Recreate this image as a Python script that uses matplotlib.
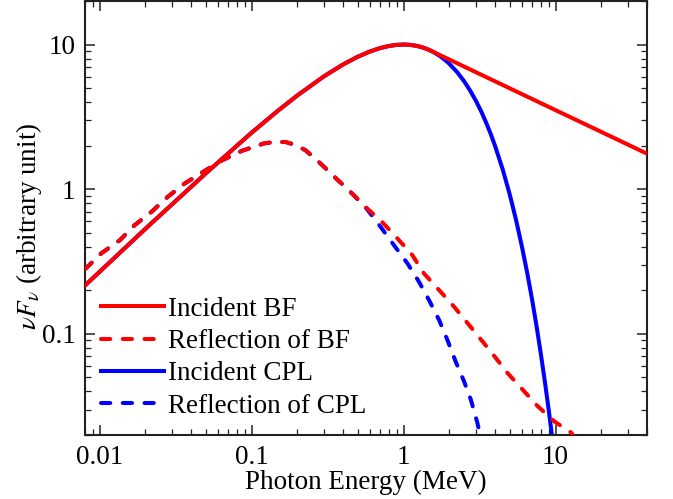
import matplotlib
matplotlib.use("Agg")
import matplotlib.pyplot as plt
from matplotlib.ticker import FixedLocator, FixedFormatter, NullFormatter

plt.rcParams['font.family'] = ['Liberation Serif', 'DejaVu Serif']
plt.rcParams['mathtext.fontset'] = 'stix'

# incident spectra (MeV, arbitrary nuFnu)
e_inc = [0.008, 0.02, 0.05, 0.1, 0.15, 0.2, 0.3, 0.4, 0.5, 0.6, 0.7, 0.8,
         0.9, 1.0, 1.1, 1.2, 1.3, 1.4, 1.5]
f_inc = [0.216, 0.533, 1.29, 2.46, 3.51, 4.45, 6.04, 7.29, 8.24, 8.95, 9.45,
         9.77, 9.95, 10.0, 9.95, 9.82, 9.63, 9.38, 9.10]

e_bf_hi = [1.75, 2, 3, 5, 10, 20, 40]
f_bf_hi = [8.42, 7.88, 6.43, 4.98, 3.52, 2.49, 1.76]

e_cpl_hi = [1.6, 1.75, 1.9, 2, 2.25, 2.5, 2.75, 3, 3.25, 3.5, 3.75, 4, 4.5,
            5, 5.5, 6, 6.5, 7, 7.5, 8, 8.5, 9, 9.5, 10]
f_cpl_hi = [8.78, 8.27, 7.72, 7.36, 6.45, 5.58, 4.78, 4.06, 3.43, 2.87, 2.40,
            1.99, 1.36, 0.916, 0.611, 0.404, 0.266, 0.174, 0.113, 0.0729,
            0.047, 0.0302, 0.0193, 0.0123]

# reflected spectra
e_refl = [0.008, 0.0103, 0.0136, 0.017, 0.022, 0.028, 0.036, 0.048, 0.064,
          0.086, 0.12, 0.14, 0.167, 0.195, 0.226, 0.283, 0.35, 0.458]
f_refl = [0.28, 0.362, 0.445, 0.565, 0.70, 0.885, 1.09, 1.32, 1.585, 1.84,
          2.07, 2.12, 2.12, 2.02, 1.86, 1.51, 1.22, 0.934]

e_rbf_hi = [0.576, 0.72, 0.91, 1.14, 1.36, 1.71, 2.15, 2.63, 3.31, 4.05,
            4.83, 6.08, 7.63, 9.82, 12.65, 14]
f_rbf_hi = [0.736, 0.595, 0.457, 0.351, 0.262, 0.201, 0.154, 0.119, 0.0885,
            0.068, 0.0536, 0.0411, 0.0316, 0.0248, 0.0208, 0.018]

e_rcpl_hi = [0.576, 0.705, 0.863, 1.06, 1.26, 1.47, 1.71, 1.94, 2.2, 2.5,
             2.77, 3.06, 3.3]
f_rcpl_hi = [0.725, 0.55, 0.411, 0.307, 0.23, 0.171, 0.125, 0.091, 0.0644,
             0.0469, 0.0351, 0.0242, 0.017]

labels = ["Incident BF", "Reflection of BF", "Incident CPL",
          "Reflection of CPL"]
x_ticks = [0.01, 0.1, 1, 10]
x_ticklabels = ["0.01", "0.1", "1", "10"]
y_ticks = [0.1, 1, 10]
y_ticklabels = ["0.1", "1", "10"]

fs = 19.5
lw = 2.9
dash = (2.3, 3.1)

fig = plt.figure(figsize=(6.73, 4.99), dpi=100)
ax = fig.add_axes([0.1263, 0.1283, 0.8351, 0.8697])

ax.plot(e_inc + e_bf_hi, f_inc + f_bf_hi, color='#ff0000', lw=lw,
        zorder=3, label=labels[0])
ax.plot(e_refl + e_rbf_hi, f_refl + f_rbf_hi, color='#ff0000', lw=lw,
        ls=(0, dash), dash_capstyle='round', zorder=3, label=labels[1])
ax.plot(e_inc + e_cpl_hi, f_inc + f_cpl_hi, color='#0000ff', lw=lw,
        zorder=2, label=labels[2])
ax.plot(e_refl + e_rcpl_hi, f_refl + f_rcpl_hi, color='#0000ff', lw=lw,
        ls=(0, dash), dash_capstyle='round', zorder=2, label=labels[3])

ax.set_xscale('log')
ax.set_yscale('log')
ax.set_xlim(0.008, 40)
ax.set_ylim(0.02, 20)

ax.xaxis.set_major_locator(FixedLocator(x_ticks))
ax.xaxis.set_major_formatter(FixedFormatter(x_ticklabels))
ax.yaxis.set_major_locator(FixedLocator(y_ticks))
ax.yaxis.set_major_formatter(FixedFormatter(y_ticklabels))
ax.xaxis.set_minor_formatter(NullFormatter())
ax.yaxis.set_minor_formatter(NullFormatter())

ax.tick_params(which='both', direction='in', top=True, right=True,
               labelsize=fs, color='#222222')
ax.tick_params(which='major', length=7, width=1.1, pad=7)
ax.tick_params(which='minor', length=4, width=0.9)
for s in ax.spines.values():
    s.set_linewidth(1.5)
    s.set_color('#222222')

ax.set_xlabel("Photon Energy (MeV)", fontsize=fs, labelpad=0)
ax.set_ylabel(r"$\nu F_\nu$ (arbitrary unit)", fontsize=fs)
ax.yaxis.set_label_coords(-0.073, 0.48)

ax.legend(loc='lower left', frameon=False, fontsize=fs, handlelength=2.3,
          handletextpad=0.15, labelspacing=0.27, borderaxespad=0.2,
          borderpad=0.4)

fig.savefig("out.png", dpi=100)
